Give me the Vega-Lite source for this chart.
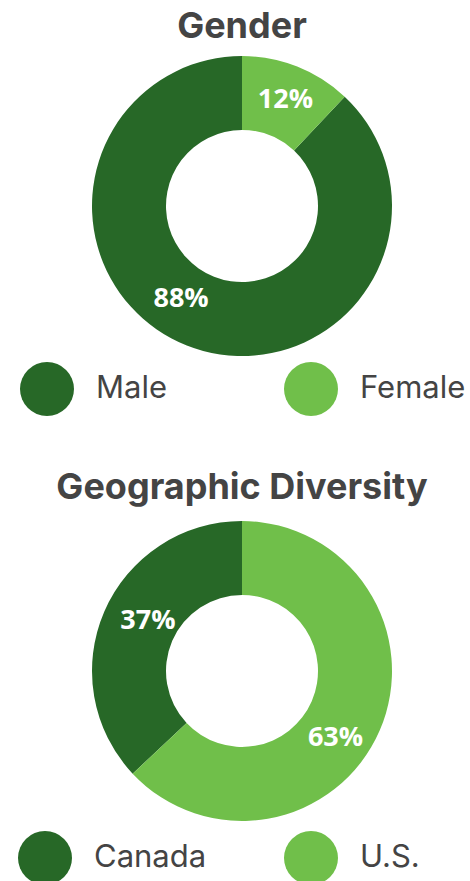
{
  "$schema": "https://vega.github.io/schema/vega-lite/v6.json",
  "padding": {"left": 14, "top": 9, "right": 0, "bottom": 0},
  "background": "white",
  "datasets": {
    "gender": [
      {"category": "Male", "share": 0.88},
      {"category": "Female", "share": 0.12}
    ],
    "geo": [
      {"category": "Canada", "share": 0.37},
      {"category": "U.S.", "share": 0.63}
    ]
  },
  "config": {
    "view": {"stroke": null},
    "title": {"font": "Inter", "fontSize": 36, "fontWeight": "bold", "color": "#444444", "anchor": "middle", "baseline": "alphabetic"},
    "text": {"font": "Open Sans", "fontWeight": "bold", "fontSize": 27, "fill": "white"},
    "legend": {
      "title": null,
      "orient": "none",
      "direction": "horizontal",
      "symbolType": "circle",
      "symbolSize": 2916,
      "symbolStrokeWidth": 0,
      "symbolOpacity": 1,
      "labelFont": "Inter",
      "labelFontSize": 31,
      "labelColor": "#444444",
      "labelOffset": 22,
      "padding": 0
    }
  },
  "bounds": "flush",
  "spacing": 165,
  "resolve": {"scale": {"color": "independent", "theta": "independent"}, "legend": {"color": "independent"}},
  "vconcat": [
    {
      "title": {"text": "Gender", "offset": 10},
      "width": 456,
      "height": 300,
      "data": {"name": "gender"},
      "encoding": {
        "theta": {"field": "share", "type": "quantitative", "stack": true},
        "order": {"field": "category", "sort": "ascending"},
        "detail": {"field": "category", "type": "nominal"}
      },
      "layer": [
        {
          "mark": {"type": "arc", "innerRadius": 76, "outerRadius": 150},
          "encoding": {
            "color": {
              "field": "category", "type": "nominal",
              "scale": {"domain": ["Male", "Female"], "range": ["#276827", "#70bf4a"]},
              "legend": {"legendX": 6, "legendY": 306, "columnPadding": 117}
            }
          }
        },
        {
          "mark": {"type": "text", "radius": 115, "thetaOffset": 0.01},
          "encoding": {
            "text": {"condition": {"test": "datum.category === 'Female'", "field": "share", "type": "quantitative", "format": ".0%"}, "value": ""}
          }
        },
        {
          "mark": {"type": "text", "radius": 111, "thetaOffset": 0.204},
          "encoding": {
            "text": {"condition": {"test": "datum.category === 'Male'", "field": "share", "type": "quantitative", "format": ".0%"}, "value": ""}
          }
        }
      ]
    },
    {
      "title": {"text": "Geographic Diversity", "offset": 14},
      "width": 456,
      "height": 300,
      "data": {"name": "geo"},
      "encoding": {
        "theta": {"field": "share", "type": "quantitative", "stack": true},
        "order": {"field": "category", "sort": "descending"},
        "detail": {"field": "category", "type": "nominal"}
      },
      "layer": [
        {
          "mark": {"type": "arc", "innerRadius": 76, "outerRadius": 150},
          "encoding": {
            "color": {
              "field": "category", "type": "nominal",
              "scale": {"domain": ["Canada", "U.S."], "range": ["#276827", "#70bf4a"]},
              "legend": {"legendX": 4, "legendY": 310, "columnPadding": 77}
            }
          }
        },
        {
          "mark": {"type": "text", "radius": 106.5, "thetaOffset": 0.08},
          "encoding": {
            "text": {"condition": {"test": "datum.category === 'Canada'", "field": "share", "type": "quantitative", "format": ".0%"}, "value": ""}
          }
        },
        {
          "mark": {"type": "text", "radius": 115, "thetaOffset": 0.213},
          "encoding": {
            "text": {"condition": {"test": "datum.category === 'U.S.'", "field": "share", "type": "quantitative", "format": ".0%"}, "value": ""}
          }
        }
      ]
    }
  ]
}
